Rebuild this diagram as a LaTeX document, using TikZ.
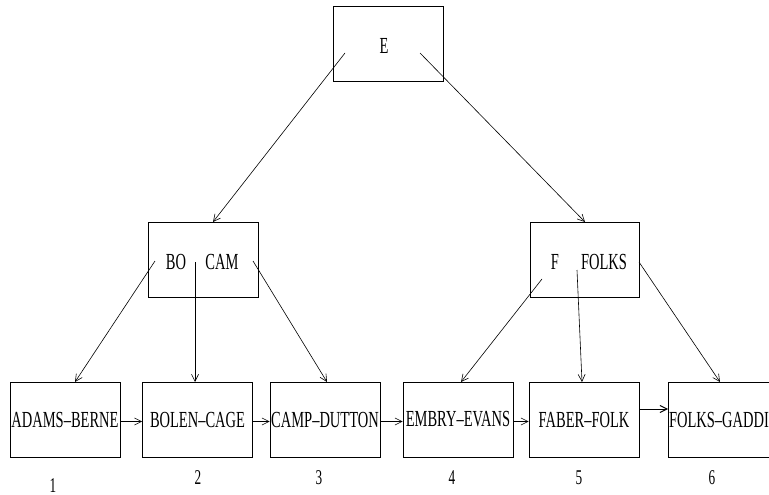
\documentclass[tikz,border=0pt]{standalone}
\usepackage{fontspec}
\setmainfont{Liberation Serif}
\usetikzlibrary{arrows.meta}
\newcommand{\cnd}[1]{\scalebox{0.63}[1]{#1}}
\begin{document}
\begin{tikzpicture}[x=1pt,y=-1pt,
  box/.style={draw, line width=0.8pt, minimum width=110pt, minimum height=75pt, inner sep=0pt, font=\fontsize{23}{23}\selectfont},
  lbl/.style={inner sep=0pt, font=\fontsize{23}{23}\selectfont},
  num/.style={inner sep=0pt, font=\fontsize{21}{21}\selectfont},
  arr/.style={line width=0.6pt, -{Straight Barb[length=7pt,width=7pt]}}]
\clip (0,0) rectangle (769,495);
% nodes
\node[box] (top) at (388,43.5) {};
\node[lbl] (te) at (384,46) {\cnd{E}};
\node[box] (m1) at (203,259.5) {};
\node[lbl] (bo) at (176,262) {\cnd{BO}};
\node[lbl] (cam) at (222,262) {\cnd{CAM}};
\node[box, minimum width=109pt] (m2) at (584.5,259.5) {};
\node[lbl] (f) at (555,262) {\cnd{F}};
\node[lbl] (folks) at (604,262) {\cnd{FOLKS}};
\node[box] (b1) at (65,419.5) {\cnd{ADAMS--BERNE}};
\node[box] (b2) at (197.5,419.5) {\cnd{BOLEN--CAGE}};
\node[box] (b3) at (325,419.5) {\cnd{CAMP--DUTTON}};
\node[box] (b4) at (458,419.5) {\cnd{EMBRY--EVANS}};
\node[box] (b5) at (584,419.5) {\cnd{FABER--FOLK}};
\node[box] (b6) at (723,419.5) {\cnd{FOLKS--GADDIS}};
\node[num] (n1) at (53,485.5) {\cnd{1}};
\node[num] (n2) at (198,478) {\cnd{2}};
\node[num] (n3) at (319,478) {\cnd{3}};
\node[num] (n4) at (452,478) {\cnd{4}};
\node[num] (n5) at (579,478) {\cnd{5}};
\node[num] (n6) at (712,478) {\cnd{6}};
% connector end points
\coordinate (tl) at (345,53);
\coordinate (tr) at (420,53);
\coordinate (m1t) at (213,222);
\coordinate (m2t) at (585,222);
\coordinate (p1) at (155,261);
\coordinate (p2) at (195,262);
\coordinate (p3) at (253,261);
\coordinate (q1) at (542,279);
\coordinate (q2) at (577,270);
\coordinate (q3) at (639,262);
\coordinate (b1t) at (75,382);
\coordinate (b2t) at (195,382);
\coordinate (b3t) at (327,382);
\coordinate (b4t) at (461,382);
\coordinate (b5t) at (582,382);
\coordinate (b6t) at (720,382);
\coordinate (r5) at (639,409);
\coordinate (l6) at (668,409);
% connectors
\draw[arr] (tl) -- (m1t);
\draw[arr] (tr) -- (m2t);
\draw[arr] (p1) -- (b1t);
\draw[arr] (p2) -- (b2t);
\draw[arr] (p3) -- (b3t);
\draw[arr] (q1) -- (b4t);
\draw[arr] (q2) -- (b5t);
\draw[arr] (q3) -- (b6t);
\draw[arr] ([yshift=-2pt]b1.east) -- ([yshift=-2pt]b2.west);
\draw[arr] ([yshift=-2pt]b2.east) -- ([yshift=-2pt]b3.west);
\draw[arr] ([yshift=-2pt]b3.east) -- ([yshift=-2pt]b4.west);
\draw[arr] ([yshift=-2pt]b4.east) -- ([yshift=-2pt]b5.west);
\draw[arr, line width=1pt] (r5) -- (l6);
\end{tikzpicture}
\end{document}
